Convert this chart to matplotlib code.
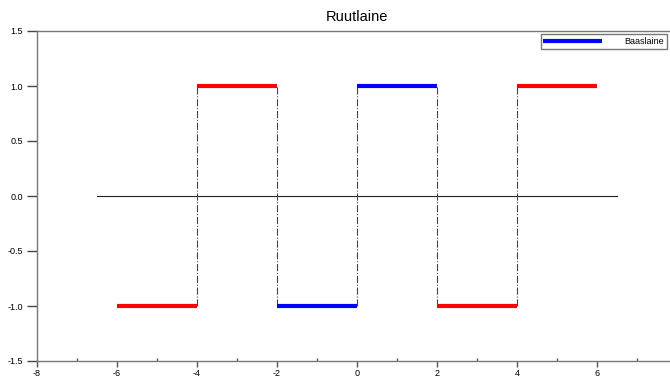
import matplotlib
matplotlib.use('Agg')
import matplotlib.pyplot as plt
from matplotlib.ticker import MultipleLocator

plt.rcParams['font.family'] = ['Liberation Sans', 'DejaVu Sans']

# square wave pieces
red_x = [[-6, -4], [-4, -2], [2, 4], [4, 6]]
red_y = [[-1, -1], [1, 1], [-1, -1], [1, 1]]
blue_x = [[-2, 0], [0, 2]]
blue_y = [[-1, -1], [1, 1]]
jumps = [-4, -2, 0, 2, 4]
base_x = [-6.5, 6.5]
base_y = [0, 0]

xticks = [-8, -6, -4, -2, 0, 2, 4, 6]
yticks = [-1.5, -1.0, -0.5, 0.0, 0.5, 1.0, 1.5]

fig = plt.figure(figsize=(6.7, 3.77), dpi=100)
ax = fig.add_axes([37 / 670, 16 / 377, 640 / 670, 330 / 377])

ax.plot(base_x, base_y, color='#222222', lw=0.8)
for x in jumps:
    ax.plot([x, x], [-1, 1], color='#444444', lw=0.8, ls='-.')
for xs, ys in zip(red_x, red_y):
    ax.plot(xs, ys, color='#ff0000', lw=3, solid_capstyle='butt')
for i, (xs, ys) in enumerate(zip(blue_x, blue_y)):
    ax.plot(xs, ys, color='#0000ff', lw=3, solid_capstyle='butt',
            label='Baaslaine' if i == 0 else None)

ax.set_xlim(-8, 8)
ax.set_ylim(-1.5, 1.5)
ax.set_xticks(xticks)
ax.set_xticklabels([str(v) for v in xticks])
ax.set_yticks(yticks)
ax.set_yticklabels([f'{v:.1f}' for v in yticks])
ax.xaxis.set_minor_locator(MultipleLocator(2))
ax.set_xticks([-7, -5, -3, -1, 1, 3, 5, 7], minor=True)
ax.tick_params(axis='y', which='major', direction='out', length=7, width=1, colors='#444444',
               labelsize=6.5, labelcolor='black', pad=3)
ax.tick_params(axis='x', which='major', direction='out', length=4, width=1, colors='#555555',
               labelsize=6.5, labelcolor='black', pad=2)
ax.tick_params(axis='x', which='minor', direction='in', length=2, width=1, colors='#555555')
for s in ax.spines.values():
    s.set_color('#777777')
    s.set_linewidth(1)

ax.set_title('Ruutlaine', fontsize=10.5, pad=7)
leg = ax.legend(loc='upper right', bbox_to_anchor=(630 / 640, 0.99),
                fontsize=6.5, frameon=True, fancybox=False, handlelength=6.5,
                borderpad=0.3, handletextpad=2.5, borderaxespad=0)
leg.get_frame().set_edgecolor('#555555')
leg.get_frame().set_linewidth(1)

fig.savefig('out.png', dpi=100)
